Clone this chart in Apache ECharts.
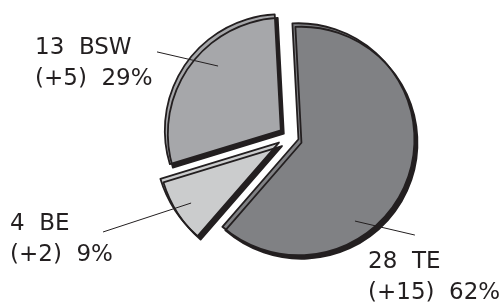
<!DOCTYPE html>
<html>
<head>
<meta charset="utf-8">
<script src="https://cdn.jsdelivr.net/npm/echarts@6/dist/echarts.min.js"></script>
<style>
  html, body { margin: 0; padding: 0; background: #fff; }
  #main { width: 503px; height: 304px; }
</style>
</head>
<body>
<div id="main"></div>
<script>
// data, in drawing order (clockwise from 12 o'clock)
var names = ['TE', 'BE', 'BSW'];
var counts = [28, 4, 13];
var changes = [15, 2, 5];
var fills = ['#808184', '#cbcccd', '#a6a7aa'];

var ink = '#231f20';
var pieCenter = [289, 136];
var pieRadius = 116;

// BE is drawn a little bigger and pulled out on its own
var farSlice = 'BE';

// label boxes (left, top) and guide lines as polar [angle, radius factor] from the pie centre
var labelPos = [[368, 247], [10, 208.5], [35, 32.5]];
var guides = [
    [[142.2, 0.928], [128.2, 1.381]],
    [[235.6, 1.023], [242.7, 1.804]],
    [[314.6, 0.859], [302.5, 1.349]]
];

function polar(p){
    var a = p[0] * Math.PI / 180;
    var r = p[1] * pieRadius;
    return [pieCenter[0] + r * Math.sin(a), pieCenter[1] - r * Math.cos(a)];
}

var total = counts.reduce(function(s, v){ return s + v; }, 0);

var hidden = { color: 'rgba(0,0,0,0)', borderWidth: 0, shadowColor: 'rgba(0,0,0,0)' };

function pieData(far){
    return names.map(function(n, i){
        var show = (n === farSlice) === far;
        var st = show ? { color: fills[i] } : hidden;
        return {
            name: n,
            value: counts[i],
            selected: show,
            itemStyle: st,
            select: { itemStyle: st }
        };
    });
}

function pieSeries(far, radius, offset){
    return {
        type: 'pie',
        center: pieCenter,
        radius: radius,
        startAngle: 93,
        clockwise: true,
        selectedMode: 'multiple',
        selectedOffset: offset,
        data: pieData(far),
        itemStyle: {
            borderColor: ink,
            borderWidth: 1.8,
            shadowColor: ink,
            shadowBlur: 0,
            shadowOffsetX: 3,
            shadowOffsetY: 3.5
        },
        emphasis: { disabled: true },
        label: { show: false },
        labelLine: { show: false }
    };
}

// labels + guide lines
var graphics = [];
names.forEach(function(n, i){
    var pct = Math.round(counts[i] / total * 100);
    var a = polar(guides[i][0]), b = polar(guides[i][1]);
    graphics.push({
        type: 'line',
        z: 100,
        shape: { x1: a[0], y1: a[1], x2: b[0], y2: b[1] },
        style: { stroke: ink, lineWidth: 1 }
    });
    graphics.push({
        type: 'text',
        z: 100,
        x: labelPos[i][0],
        y: labelPos[i][1],
        style: {
            text: counts[i] + '  ' + n + '\n(+' + changes[i] + ')  ' + pct + '%',
            fill: ink,
            font: '23px "DejaVu Sans"',
            lineHeight: 31,
            textAlign: 'left',
            textVerticalAlign: 'top'
        }
    });
});

var chart = echarts.init(document.getElementById('main'));
chart.setOption({
    animation: false,
    graphic: graphics,
    series: [pieSeries(false, pieRadius, 10), pieSeries(true, 124, 12)]
});
</script>
</body>
</html>
